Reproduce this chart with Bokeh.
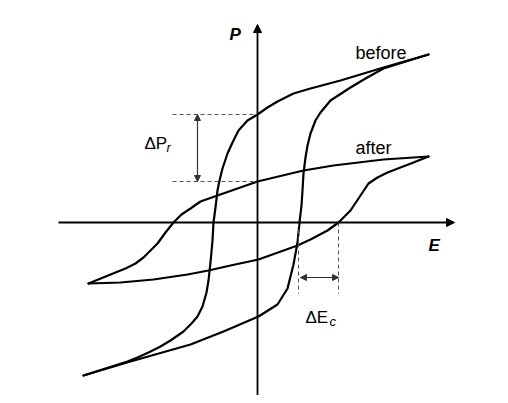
from bokeh.plotting import figure
from bokeh.models import Arrow, NormalHead, Label, Range1d
from bokeh.embed import file_html
from bokeh.resources import INLINE

# ---- data (arbitrary units: E field, polarization P) ----
# "before" loop: descending branch (from +Emax to -Emax)
before_down_E = [17.1, 12.6, 8.3, 5.3, 3.6, 2.0, 1.0, 0.0, -1.0, -1.9, -2.5, -3.0, -3.5, -3.8,
                 -4.0, -4.2, -4.4, -4.5, -4.7, -4.9, -5.1, -5.5, -6.0, -6.6, -7.4, -8.7, -9.7,
                 -10.9, -12.0, -13.0, -17.4]
before_down_P = [16.8, 15.5, 14.2, 13.4, 12.9, 12.1, 11.5, 10.8, 10.2, 9.2, 8.0, 6.9, 5.4, 4.2,
                 3.2, 1.5, 0.0, -1.8, -4.0, -5.8, -7.0, -8.4, -9.4, -10.1, -10.9, -11.8, -12.4,
                 -13.0, -13.5, -13.9, -15.3]
# "before" loop: ascending branch (from -Emax to +Emax)
before_up_E = [-17.4, -12.7, -6.7, -3.4, 0.1, 2.0, 3.0, 3.6, 4.0, 4.2, 4.4, 4.5, 4.6, 4.8,
               5.0, 5.3, 5.8, 6.3, 7.3, 9.3, 10.8, 12.6, 17.1]
before_up_P = [-15.3, -13.9, -12.2, -10.9, -9.4, -8.2, -6.6, -4.2, -2.0, 0.0, 1.7, 3.2, 4.9, 6.5,
               7.7, 8.9, 10.2, 11.0, 12.2, 13.5, 14.4, 15.4, 16.8]
# "after" loop: descending branch
after_down_E = [17.1, 12.6, 7.6, 4.6, 0.0, -4.0, -5.7, -6.7, -7.6, -8.4, -9.2, -10.0, -10.7,
                -11.4, -12.2, -13.2, -14.2, -16.9]
after_down_P = [6.6, 6.3, 5.7, 5.2, 4.1, 2.7, 2.1, 1.4, 0.8, 0.0, -1.0, -2.1, -2.8,
                -3.5, -4.1, -4.6, -5.0, -6.1]
# "after" loop: ascending branch
after_up_E = [-16.9, -13.7, -10.4, -7.0, -4.9, -2.7, 0.1, 4.0, 5.3, 7.0, 8.1, 9.3, 10.3,
              11.1, 12.0, 13.0, 14.3, 15.6, 17.1]
after_up_P = [-6.1, -6.0, -5.7, -5.2, -4.8, -4.3, -3.7, -2.3, -1.7, -0.8, 0.0, 1.2, 2.7,
              3.9, 4.5, 5.0, 5.5, 6.0, 6.6]

# characteristic values
Pr_before = 10.8
Pr_after = 4.1
Ec_before = 4.1
Ec_after = 8.1

p = figure(width=500, height=395, x_range=Range1d(-25.7, 24.3), y_range=Range1d(-17.3, 22.2),
           output_backend="svg", toolbar_location=None, x_axis_type=None, y_axis_type=None,
           min_border=0)
p.outline_line_color = None
p.background_fill_color = "white"
p.border_fill_color = "white"

# axes with arrows
p.add_layout(Arrow(end=NormalHead(size=8, fill_color="black", line_color="black", line_width=1),
                   x_start=-19.9, y_start=0, x_end=19.7, y_end=0,
                   line_color="black", line_width=1.8))
p.add_layout(Arrow(end=NormalHead(size=8, fill_color="black", line_color="black", line_width=1),
                   x_start=0, y_start=-17.6, x_end=0, y_end=19.8,
                   line_color="black", line_width=1.8))

# loops
for xs, ys in [(before_down_E, before_down_P), (before_up_E, before_up_P),
               (after_down_E, after_down_P), (after_up_E, after_up_P)]:
    p.line(xs, ys, line_color="black", line_width=2.2, line_join="round", line_cap="round")

# dashed guides for delta Pr
dash_col = "#555555"
for pr in [Pr_before, Pr_after]:
    p.line([-8.5, 0], [pr, pr], line_color=dash_col, line_width=1, line_dash="4 3")
p.add_layout(Arrow(start=NormalHead(size=6, fill_color="#333333", line_color="#333333"),
                   end=NormalHead(size=6, fill_color="#333333", line_color="#333333"),
                   x_start=-6.0, y_start=Pr_after, x_end=-6.0, y_end=Pr_before,
                   line_color="#333333", line_width=1.2))

# dashed guides for delta Ec
for ec in [Ec_before, Ec_after]:
    p.line([ec, ec], [0, -7.1], line_color=dash_col, line_width=1, line_dash="4 3")
p.add_layout(Arrow(start=NormalHead(size=6, fill_color="#333333", line_color="#333333"),
                   end=NormalHead(size=6, fill_color="#333333", line_color="#333333"),
                   x_start=Ec_before + 0.2, y_start=-5.5, x_end=Ec_after, y_end=-5.5,
                   line_color="#333333", line_width=1.2))

font = "Liberation Sans"
def lab(x, y, t, size, style="normal"):
    p.add_layout(Label(x=x, y=y, text=t, text_font=font, text_font_size=size,
                       text_font_style=style, text_color="black", text_baseline="alphabetic",
                       text_align="left"))

lab(9.8, 17.0, "before", "18px")
lab(9.8, 7.5, "after", "18px")
lab(-2.8, 18.8, "P", "17px", "bold italic")
lab(17.1, -2.3, "E", "17px", "bold italic")
lab(-11.3, 7.9, "\u0394P", "17px")
lab(-9.1, 7.5, "r", "13px", "italic")
lab(4.8, -9.5, "\u0394E", "17px")
lab(7.2, -9.9, "c", "13px", "italic")

open("out.html", "w").write(file_html(p, INLINE))
